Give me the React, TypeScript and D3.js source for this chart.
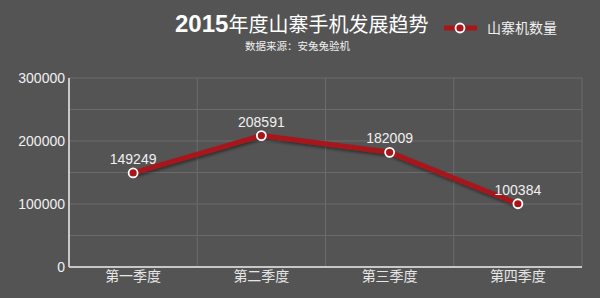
import React from "react";
import * as d3 from "d3";

const categories = ["第一季度", "第二季度", "第三季度", "第四季度"];
const values = [149249, 208591, 182009, 100384];
const yTicks = [0, 100000, 200000, 300000];
const gridTicks = [0, 50000, 100000, 150000, 200000, 250000, 300000];
const seriesName = "山寨机数量";
const title = "年度山寨手机发展趋势";
const titleYear = "2015";
const subtitle = "数据来源：安兔兔验机";

const W = 600, H = 298;
const left = 69, right = 582, top = 78, bottom = 267;

export default function App() {
  const x = d3.scaleBand<string>().domain(categories).range([left, right]).padding(0);
  const y = d3.scaleLinear().domain([0, 300000]).range([bottom, top]);
  const line = d3.line<number>()
    .x((_, i) => (x(categories[i]) as number) + x.bandwidth() / 2)
    .y((d) => y(d));
  const sans = "'Liberation Sans', Arial, sans-serif";
  const cjk = "'Noto Sans CJK SC', sans-serif";
  return (
    <svg width={W} height={H} style={{ position: "absolute", left: 0, top: 0, display: "block" }}>
      <defs>
        <filter id="sh" x="-10%" y="-10%" width="120%" height="140%">
          <feDropShadow dx="1" dy="2" stdDeviation="1.5" floodColor="#000" floodOpacity="0.45" />
        </filter>
      </defs>
      <rect width={W} height={H} fill="#545454" />
      {gridTicks.map((t) => (
        <line key={t} x1={left} x2={right} y1={y(t)} y2={y(t)} stroke="#6b6b6b" strokeWidth={1} />
      ))}
      {categories.map((c) => (
        <line key={c} x1={(x(c) as number) + x.bandwidth()} x2={(x(c) as number) + x.bandwidth()}
          y1={top} y2={bottom} stroke="#6b6b6b" strokeWidth={1} />
      ))}
      <line x1={left} x2={left} y1={top} y2={bottom} stroke="#c8c8c8" strokeWidth={2} />
      <line x1={left} x2={right} y1={bottom} y2={bottom} stroke="#c8c8c8" strokeWidth={2} />
      {yTicks.map((t) => (
        <text key={t} x={left - 4} y={y(t) + 5} textAnchor="end" fill="#f0f0f0"
          fontFamily={sans} fontSize={14}>{t}</text>
      ))}
      {categories.map((c) => (
        <text key={c} x={(x(c) as number) + x.bandwidth() / 2} y={281} textAnchor="middle"
          fill="#e6e6e6" fontFamily={cjk} fontSize={14}>{c}</text>
      ))}
      <path d={line(values) as string} fill="none" stroke="#a8161a" strokeWidth={5}
        strokeLinejoin="round" filter="url(#sh)" />
      {values.map((v, i) => {
        const cx = (x(categories[i]) as number) + x.bandwidth() / 2;
        return (
          <g key={i}>
            <circle cx={cx} cy={y(v)} r={4.5} fill="#a8161a" stroke="#fff" strokeWidth={1.8} />
            <text x={cx} y={y(v) - 9} textAnchor="middle" fill="#f0f0f0" fontFamily={sans}
              fontSize={14}>{v}</text>
          </g>
        );
      })}
      <text x={175} y={32} fill="#fff" fontFamily={cjk} fontSize={20}>
        <tspan fontFamily={sans} fontWeight="bold" fontSize={24}>{titleYear}</tspan>
        <tspan>{title}</tspan>
      </text>
      <text x={245} y={50} fill="#f0f0f0" fontFamily={cjk} fontSize={10.5}>{subtitle}</text>
      <line x1={444} x2={477} y1={28} y2={28} stroke="#a8161a" strokeWidth={5} />
      <circle cx={460} cy={28} r={4.5} fill="#a8161a" stroke="#fff" strokeWidth={1.8} />
      <text x={487} y={33} fill="#f0f0f0" fontFamily={cjk} fontSize={14}>{seriesName}</text>
    </svg>
  );
}
